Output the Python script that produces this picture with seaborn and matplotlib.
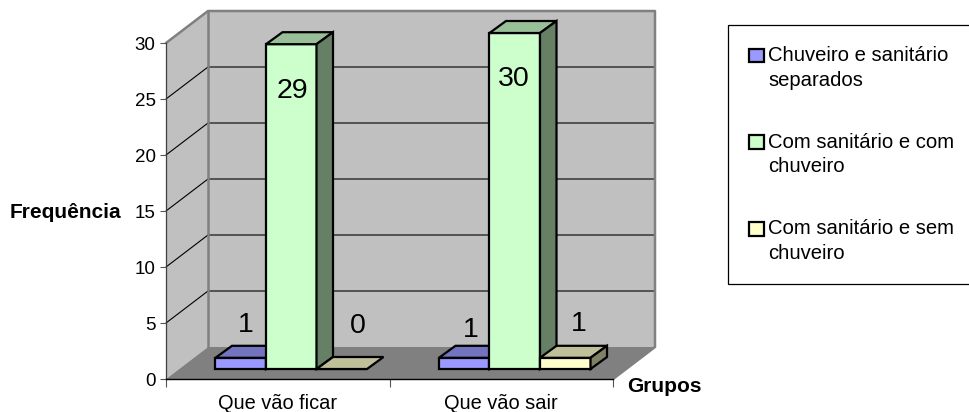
import matplotlib
matplotlib.use('Agg')
import numpy as np
import pandas as pd
import seaborn as sns
import matplotlib.pyplot as plt
from matplotlib.colors import to_rgb
from matplotlib.patches import Polygon

grupos = ['Que vão ficar', 'Que vão sair']
tipos = ['Chuveiro e sanitário\nseparados',
         'Com sanitário e com\nchuveiro',
         'Com sanitário e sem\nchuveiro']
chuveiro_separado = [1, 1]
com_chuveiro = [29, 30]
sem_chuveiro = [0, 1]
cores = ['#9999FF', '#CCFFCC', '#FFFFCC']
yticks = [0, 5, 10, 15, 20, 25, 30]

df = pd.DataFrame({
    'grupo': grupos * 3,
    'tipo': [tipos[0]] * 2 + [tipos[1]] * 2 + [tipos[2]] * 2,
    'freq': chuveiro_separado + com_chuveiro + sem_chuveiro,
})

sns.set_theme(style='white')
plt.rcParams['font.family'] = ['Liberation Sans', 'DejaVu Sans']

W, H = 969, 412
fig = plt.figure(figsize=(W / 100, H / 100), dpi=100)
ax = fig.add_axes([166 / W, (H - 379) / H, 447 / W, 336 / H])
ax.patch.set_visible(False)

sns.barplot(data=df, x='grupo', y='freq', hue='tipo', hue_order=tipos, palette=cores,
            width=0.678, gap=0, saturation=1, edgecolor='black', linewidth=1.6, ax=ax)
ax.set_xlim(-0.5, 1.5)
ax.set_ylim(0, 30)

# one pixel in data units, the fake 3D is all pixel offsets
px = 2 / 447
py = 30 / 336
wall_dx, wall_dy = 42 * px, 32 * py
bar_dx, bar_dy = 13.5 * px, 10 * py
top_dx, top_dy = 16.5 * px, 12 * py


def face(points, color, z, edge='none', lw=0):
    ax.add_patch(Polygon(points, closed=True, facecolor=color, edgecolor=edge, linewidth=lw,
                         zorder=z, clip_on=False, joinstyle='miter'))


x0, x1 = ax.get_xlim()
ymax = ax.get_ylim()[1]
face([(x0, 0), (x0 + wall_dx, wall_dy), (x0 + wall_dx, ymax + wall_dy), (x0, ymax)], '#C0C0C0', 0.1)
face([(x0 + wall_dx, wall_dy), (x1 + wall_dx, wall_dy), (x1 + wall_dx, ymax + wall_dy),
      (x0 + wall_dx, ymax + wall_dy)], '#C0C0C0', 0.1)
face([(x0, 0), (x1, 0), (x1 + wall_dx, wall_dy), (x0 + wall_dx, wall_dy)], '#808080', 0.2)

# grey outline of the walls
ax.plot([x0, x0 + wall_dx, x1 + wall_dx, x1 + wall_dx, x1],
        [ymax, ymax + wall_dy, ymax + wall_dy, wall_dy, 0],
        color='#808080', lw=1.8, zorder=0.4, clip_on=False)
ax.plot([x0 + wall_dx, x0 + wall_dx], [wall_dy, ymax + wall_dy],
        color='#808080', lw=1.8, zorder=0.4, clip_on=False)

for t in yticks[1:-1]:
    ax.plot([x0, x0 + wall_dx, x1 + wall_dx], [t, t + wall_dy, t + wall_dy],
            color='black', lw=0.8, zorder=0.3, clip_on=False)

for i, container in enumerate(ax.containers):
    base = np.array(to_rgb(cores[i]))
    for bar in container:
        bar.set_x(bar.get_x() + bar_dx)
        bar.set_y(bar_dy)
        bar.set_clip_on(False)
        bar.set_zorder(3 + i)
        xa = bar.get_x()
        xb = xa + bar.get_width()
        ya = bar_dy
        yb = bar_dy + bar.get_height()
        face([(xa, yb), (xb, yb), (xb + top_dx, yb + top_dy), (xa + top_dx, yb + top_dy)],
             base * 0.75, 3 + i, 'black', 1.6)
        if bar.get_height() > 0:
            face([(xb, ya), (xb + top_dx, ya + top_dy), (xb + top_dx, yb + top_dy), (xb, yb)],
                 base * 0.5, 3 + i, 'black', 1.6)

# where excel left the data labels, pixels from the bar top centre
label_pos = [[(5, 33), (7, 28)], [(1, -47), (-1, -46)], [(16, 43), (13, 34)]]
for i, container in enumerate(ax.containers):
    for j, bar in enumerate(container):
        ax.annotate(f'{bar.get_height():.0f}',
                    (bar.get_x() + bar.get_width() / 2, bar_dy + bar.get_height()),
                    xytext=label_pos[i][j], textcoords='offset pixels',
                    ha='center', va='center', fontsize=20.5, color='black', zorder=10,
                    annotation_clip=False)

ax.set_yticks(yticks)
ax.set_xticks([-0.5, 0.5, 1.5], minor=True)
ax.tick_params(axis='x', which='major', length=0, pad=10.5, labelsize=14.4, colors='black')
ax.tick_params(axis='x', which='minor', bottom=True, length=5.5, width=0.8, color='#555555')
ax.tick_params(axis='y', left=True, length=4, width=0.8, color='#555555', pad=3.5,
               labelsize=13.5, labelcolor='black')

sns.despine(ax=ax, top=True, right=True)
ax.spines['left'].set_color('#404040')
ax.spines['left'].set_linewidth(0.9)
ax.spines['bottom'].set_color('black')
ax.spines['bottom'].set_linewidth(1.0)
ax.spines['left'].set_zorder(1)
ax.spines['bottom'].set_zorder(1)

ax.set_ylabel('Frequência', rotation=0, fontsize=15, fontweight='bold', color='black',
              ha='center', va='center')
ax.yaxis.set_label_coords((65 - 166) / 447, (379 - 213) / 336)
ax.set_xlabel('Grupos', fontsize=15, fontweight='bold', color='black', ha='center', va='center')
ax.xaxis.set_label_coords((664 - 166) / 447, (379 - 387) / 336)

handles, labels = ax.get_legend_handles_labels()
leg = ax.legend(handles, labels, loc='upper left', bbox_to_anchor=(728 / W, (H - 25) / H),
                bbox_transform=fig.transFigure, borderaxespad=0, borderpad=1.05,
                fontsize=14.6, handlelength=0.72, handleheight=0.65, handletextpad=0.2,
                labelspacing=2.13, frameon=True, fancybox=False, framealpha=1,
                edgecolor='black', facecolor='white', title=None)
leg.get_frame().set_linewidth(0.9)
for txt in leg.get_texts():
    txt.set_linespacing(1.36)
    txt.set_color('black')
# swatch sits on the first line of its label, not between the two
for h in leg.legend_handles:
    h.set_y(h.get_y() + 9.2)

fig.savefig('out.png', dpi=100, facecolor='white')
